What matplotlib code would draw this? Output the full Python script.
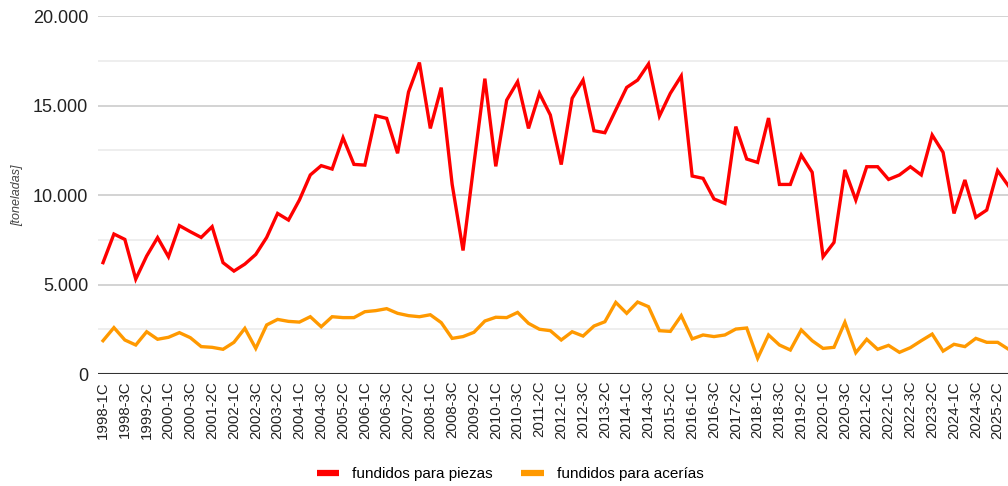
import matplotlib
matplotlib.use("Agg")
import matplotlib.pyplot as plt
from matplotlib.lines import Line2D
from matplotlib.ticker import FuncFormatter, MultipleLocator

plt.rcParams["font.family"] = ["Liberation Sans", "DejaVu Sans"]

# periodos cuatrimestrales 1998-1C ... 2025-3C
periodos = [f"{a}-{c}C" for a in range(1998, 2026) for c in (1, 2, 3)]

piezas = [
    6220, 7820, 7520, 5300, 6590, 7620, 6550, 8290, 7950, 7630,
    8230, 6220, 5750, 6140, 6680, 7630, 8970, 8600, 9720, 11120,
    11640, 11450, 13200, 11710, 11670, 14430, 14280, 12330, 15750, 17400,
    13720, 16000, 10600, 6900, 11750, 16500, 11600, 15300, 16330, 13720,
    15680, 14470, 11700, 15400, 16420, 13590, 13480, 14750, 16010, 16420,
    17320, 14410, 15680, 16650, 11060, 10930, 9780, 9530, 13820, 12010,
    11820, 14300, 10590, 10590, 12230, 11270, 6550, 7350, 11400, 9720,
    11580, 11580, 10870, 11120, 11580, 11120, 13350, 12380, 8970, 10840,
    8750, 9160, 11360, 10500,
]

acerias = [
    1860, 2590, 1900, 1620, 2360, 1940, 2050, 2310, 2030, 1530,
    1490, 1380, 1770, 2550, 1430, 2740, 3050, 2940, 2900, 3200,
    2640, 3200, 3150, 3150, 3480, 3540, 3650, 3390, 3260, 3200,
    3310, 2870, 1990, 2090, 2330, 2960, 3170, 3150, 3440, 2830,
    2500, 2420, 1900, 2360, 2120, 2680, 2920, 4000, 3390, 4020,
    3760, 2420, 2380, 3260, 1960, 2180, 2090, 2180, 2510, 2570,
    880, 2180, 1620, 1340, 2460, 1860, 1430, 1490, 2890, 1190,
    1940, 1380, 1600, 1210, 1470, 1860, 2230, 1280, 1660, 1530,
    1990, 1770, 1770, 1380,
]

rojo = "#ff0000"
naranja = "#ff9900"

fig = plt.figure(figsize=(10.08, 4.86), dpi=100)
ax = fig.add_axes([98 / 1008, 112 / 486, 910 / 1008, 358 / 486])

x = list(range(len(periodos)))
ax.plot(x, piezas, color=rojo, lw=2.4, solid_joinstyle="miter", zorder=3)
ax.plot(x, acerias, color=naranja, lw=2.4, solid_joinstyle="miter", zorder=3)

ax.set_xlim(-0.46, 82.95)
ax.set_ylim(0, 20000)

ax.yaxis.set_major_locator(MultipleLocator(5000))
ax.yaxis.set_minor_locator(MultipleLocator(2500))
ax.yaxis.set_major_formatter(FuncFormatter(lambda v, p: f"{v:,.0f}".replace(",", ".")))
ax.grid(axis="y", which="major", color="#cccccc", lw=1.2)
ax.grid(axis="y", which="minor", color="#ebebeb", lw=1.2)
ax.set_axisbelow(True)
ax.axhline(0, color="#333333", lw=1.5, zorder=4)

ax.set_xticks(x[::2])
ax.set_xticklabels(periodos[::2], rotation=90, fontsize=10.8, color="#222222")
ax.tick_params(axis="x", length=0, pad=5)
ax.tick_params(axis="y", which="both", length=0, pad=7, labelsize=13, labelcolor="#222222")

for s in ax.spines.values():
    s.set_visible(False)

fig.text(17 / 1008, 1 - 195 / 486, "[toneladas]", rotation=90, style="italic",
         fontsize=9, color="#444444", ha="center", va="center")

handles = [Line2D([], [], color=rojo, lw=4.5, solid_capstyle="butt"),
           Line2D([], [], color=naranja, lw=4.5, solid_capstyle="butt")]
fig.legend(handles, ["fundidos para piezas", "fundidos para acerías"], loc="center",
           bbox_to_anchor=(510 / 1008, 1 - 474 / 486), ncol=2, frameon=False, fontsize=11,
           handlelength=1.45, handletextpad=0.85, columnspacing=1.9)

fig.savefig("out.png", dpi=100)
